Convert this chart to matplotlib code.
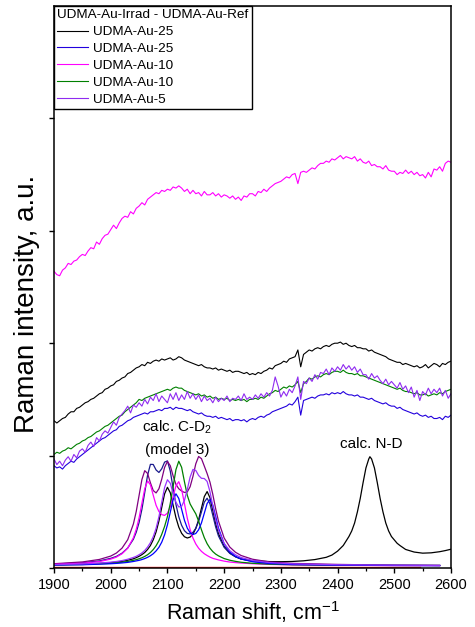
import numpy as np
import matplotlib
matplotlib.use('Agg')
import matplotlib.pyplot as plt

plt.rcParams['font.family'] = 'Liberation Sans'
plt.rcParams['mathtext.default'] = 'regular'

# measured difference spectra (Irrad - Ref), one value every 5 cm-1, 1900..2600
shift = np.arange(1900, 2601, 5)

au25_black = [
    1.31, 1.29, 1.31, 1.33, 1.34, 1.37, 1.39, 1.39, 1.42, 1.43,
    1.45, 1.47, 1.48, 1.50, 1.51, 1.53, 1.55, 1.56, 1.59, 1.60,
    1.62, 1.63, 1.66, 1.67, 1.69, 1.70, 1.73, 1.74, 1.76, 1.78,
    1.79, 1.81, 1.80, 1.83, 1.82, 1.84, 1.85, 1.84, 1.86, 1.85,
    1.86, 1.87, 1.85, 1.86, 1.88, 1.87, 1.85, 1.84, 1.83, 1.82,
    1.81, 1.80, 1.81, 1.79, 1.78, 1.78, 1.77, 1.78, 1.76, 1.77,
    1.76, 1.75, 1.76, 1.74, 1.75, 1.75, 1.74, 1.73, 1.74, 1.72,
    1.73, 1.72, 1.74, 1.73, 1.75, 1.76, 1.78, 1.77, 1.80, 1.81,
    1.82, 1.84, 1.83, 1.86, 1.87, 1.88, 1.94, 1.79, 1.90, 1.92,
    1.94, 1.93, 1.95, 1.96, 1.95, 1.97, 1.98, 1.97, 1.99, 2.00,
    2.00, 2.01, 1.99, 2.00, 1.98, 1.97, 1.98, 1.96, 1.96, 1.95,
    1.95, 1.93, 1.94, 1.92, 1.91, 1.90, 1.89, 1.88, 1.86, 1.85,
    1.84, 1.83, 1.83, 1.81, 1.82, 1.81, 1.80, 1.79, 1.80, 1.78,
    1.79, 1.81, 1.78, 1.80, 1.82, 1.81, 1.79, 1.82, 1.81, 1.83,
    1.84]

au25_blue = [
    0.91, 0.89, 0.90, 0.88, 0.91, 0.93, 0.95, 0.94, 0.97, 0.99,
    1.01, 1.03, 1.05, 1.07, 1.09, 1.11, 1.13, 1.15, 1.16, 1.18,
    1.20, 1.22, 1.23, 1.26, 1.27, 1.29, 1.31, 1.32, 1.34, 1.35,
    1.36, 1.37, 1.38, 1.37, 1.39, 1.39, 1.40, 1.41, 1.40, 1.42,
    1.42, 1.43, 1.41, 1.43, 1.42, 1.42, 1.41, 1.40, 1.41, 1.39,
    1.38, 1.37, 1.38, 1.36, 1.35, 1.35, 1.34, 1.35, 1.33, 1.34,
    1.33, 1.32, 1.33, 1.31, 1.32, 1.32, 1.31, 1.32, 1.30, 1.32,
    1.33, 1.32, 1.34, 1.35, 1.34, 1.36, 1.37, 1.39, 1.40, 1.41,
    1.42, 1.43, 1.44, 1.46, 1.45, 1.48, 1.52, 1.36, 1.49, 1.50,
    1.51, 1.52, 1.51, 1.53, 1.54, 1.54, 1.55, 1.54, 1.56, 1.55,
    1.56, 1.55, 1.57, 1.55, 1.54, 1.54, 1.53, 1.54, 1.52, 1.52,
    1.51, 1.50, 1.51, 1.49, 1.48, 1.47, 1.46, 1.47, 1.45, 1.44,
    1.44, 1.42, 1.43, 1.41, 1.40, 1.39, 1.38, 1.37, 1.38, 1.36,
    1.35, 1.36, 1.34, 1.35, 1.33, 1.33, 1.34, 1.32, 1.35, 1.34,
    1.36]

au10_magenta = [
    2.64, 2.61, 2.60, 2.65, 2.67, 2.71, 2.70, 2.73, 2.74, 2.77,
    2.79, 2.78, 2.82, 2.85, 2.84, 2.90, 2.88, 2.93, 2.96, 2.97,
    3.01, 3.05, 3.02, 3.07, 3.11, 3.13, 3.12, 3.17, 3.15, 3.20,
    3.22, 3.25, 3.23, 3.28, 3.30, 3.32, 3.34, 3.33, 3.36, 3.35,
    3.37, 3.36, 3.39, 3.38, 3.40, 3.38, 3.35, 3.37, 3.33, 3.36,
    3.33, 3.34, 3.31, 3.35, 3.32, 3.32, 3.34, 3.31, 3.33, 3.30,
    3.32, 3.31, 3.29, 3.31, 3.28, 3.30, 3.27, 3.31, 3.30, 3.33,
    3.33, 3.31, 3.35, 3.34, 3.37, 3.35, 3.38, 3.40, 3.42, 3.43,
    3.44, 3.46, 3.48, 3.47, 3.50, 3.51, 3.42, 3.52, 3.53, 3.52,
    3.54, 3.56, 3.55, 3.58, 3.60, 3.60, 3.62, 3.61, 3.64, 3.63,
    3.65, 3.67, 3.64, 3.66, 3.65, 3.64, 3.66, 3.62, 3.64, 3.61,
    3.60, 3.62, 3.58, 3.59, 3.57, 3.57, 3.55, 3.58, 3.54, 3.53,
    3.53, 3.50, 3.52, 3.51, 3.54, 3.51, 3.53, 3.50, 3.52, 3.49,
    3.50, 3.47, 3.52, 3.48, 3.55, 3.54, 3.57, 3.53, 3.60, 3.62,
    3.61]

au10_green = [
    1.01, 1.03, 1.02, 1.04, 1.05, 1.07, 1.06, 1.08, 1.10, 1.11,
    1.13, 1.14, 1.16, 1.17, 1.19, 1.21, 1.22, 1.24, 1.26, 1.27,
    1.29, 1.31, 1.33, 1.35, 1.36, 1.39, 1.41, 1.43, 1.45, 1.47,
    1.50, 1.49, 1.51, 1.52, 1.53, 1.54, 1.55, 1.56, 1.57, 1.58,
    1.59, 1.58, 1.60, 1.61, 1.60, 1.60, 1.58, 1.57, 1.56, 1.55,
    1.54, 1.55, 1.53, 1.54, 1.52, 1.53, 1.51, 1.52, 1.50, 1.51,
    1.50, 1.51, 1.49, 1.50, 1.49, 1.50, 1.49, 1.50, 1.48, 1.50,
    1.50, 1.51, 1.50, 1.52, 1.51, 1.53, 1.55, 1.56, 1.58, 1.57,
    1.59, 1.61, 1.60, 1.62, 1.61, 1.63, 1.66, 1.56, 1.64, 1.66,
    1.69, 1.68, 1.70, 1.71, 1.70, 1.72, 1.73, 1.72, 1.74, 1.75,
    1.75, 1.74, 1.76, 1.74, 1.73, 1.73, 1.72, 1.73, 1.71, 1.71,
    1.70, 1.69, 1.68, 1.67, 1.66, 1.65, 1.64, 1.63, 1.62, 1.61,
    1.60, 1.59, 1.60, 1.58, 1.57, 1.57, 1.56, 1.55, 1.56, 1.54,
    1.54, 1.55, 1.53, 1.54, 1.55, 1.54, 1.56, 1.55, 1.57, 1.58,
    1.59]

au5_violet = [
    0.97, 0.92, 0.95, 0.91, 0.96, 0.99, 0.95, 1.01, 0.98, 1.04,
    1.06, 1.03, 1.09, 1.12, 1.08, 1.16, 1.13, 1.19, 1.22, 1.20,
    1.25, 1.30, 1.27, 1.34, 1.37, 1.40, 1.44, 1.38, 1.45, 1.43,
    1.47, 1.44, 1.50, 1.46, 1.52, 1.49, 1.55, 1.48, 1.53, 1.50,
    1.47, 1.55, 1.50, 1.56, 1.49, 1.54, 1.50, 1.57, 1.51, 1.55,
    1.50, 1.54, 1.48, 1.53, 1.49, 1.51, 1.47, 1.52, 1.48, 1.51,
    1.49, 1.53, 1.48, 1.51, 1.50, 1.53, 1.49, 1.55, 1.50, 1.52,
    1.50, 1.54, 1.51, 1.55, 1.52, 1.56, 1.53, 1.58, 1.70, 1.62,
    1.52, 1.57, 1.53, 1.59, 1.56, 1.62, 1.70, 1.50, 1.66, 1.64,
    1.69, 1.66, 1.72, 1.68, 1.74, 1.73, 1.77, 1.72, 1.78, 1.75,
    1.79, 1.76, 1.81, 1.77, 1.80, 1.76, 1.79, 1.74, 1.77, 1.72,
    1.72, 1.68, 1.73, 1.69, 1.71, 1.67, 1.64, 1.68, 1.63, 1.66,
    1.63, 1.60, 1.65, 1.59, 1.62, 1.56, 1.61, 1.52, 1.58, 1.49,
    1.57, 1.54, 1.60, 1.55, 1.59, 1.56, 1.60, 1.53, 1.58, 1.51,
    1.55]

# calculated C-D2 spectra (model 3)
calc_x = [1900, 1950, 1980, 2000, 2010, 2020, 2030,
          2040, 2045, 2050, 2055, 2060, 2065, 2070, 2075, 2080, 2085,
          2090, 2095, 2100, 2105, 2110, 2115, 2120, 2125, 2130, 2135,
          2140, 2145, 2150, 2155, 2160, 2165, 2170, 2175, 2180, 2185, 2190,
          2200, 2210, 2220, 2230, 2250, 2280, 2320, 2400, 2500, 2580]

calc_navy = [
    0.035, 0.047, 0.063, 0.086, 0.103, 0.132, 0.178,
    0.256, 0.318, 0.404, 0.522, 0.672, 0.826, 0.922, 0.921, 0.872, 0.850,
    0.883, 0.942, 0.953, 0.862, 0.711, 0.566, 0.456, 0.380, 0.332, 0.308,
    0.303, 0.317, 0.353, 0.414, 0.499, 0.586, 0.621, 0.571, 0.469, 0.366, 0.285,
    0.184, 0.130, 0.100, 0.080, 0.059, 0.043, 0.035, 0.028, 0.024, 0.023]

calc_purple = [
    0.038, 0.054, 0.076, 0.106, 0.133, 0.177, 0.252,
    0.392, 0.503, 0.645, 0.787, 0.866, 0.841, 0.758, 0.689, 0.668, 0.705,
    0.791, 0.895, 0.948, 0.910, 0.820, 0.744, 0.705, 0.685, 0.672, 0.677,
    0.723, 0.815, 0.927, 0.992, 0.973, 0.907, 0.840, 0.764, 0.655, 0.528, 0.417,
    0.267, 0.186, 0.140, 0.111, 0.078, 0.054, 0.041, 0.032, 0.025, 0.023]

calc_magenta = [
    0.032, 0.042, 0.057, 0.079, 0.097, 0.127, 0.177,
    0.269, 0.344, 0.446, 0.576, 0.705, 0.774, 0.740, 0.647, 0.558, 0.502,
    0.475, 0.468, 0.488, 0.544, 0.635, 0.731, 0.768, 0.701, 0.573, 0.444,
    0.342, 0.267, 0.214, 0.176, 0.148, 0.127, 0.111, 0.097, 0.086, 0.079, 0.072,
    0.061, 0.053, 0.048, 0.044, 0.038, 0.032, 0.028, 0.024, 0.022, 0.021]

calc_green = [
    0.027, 0.031, 0.037, 0.042, 0.046, 0.051, 0.058,
    0.068, 0.074, 0.082, 0.091, 0.103, 0.118, 0.138, 0.164, 0.198, 0.243,
    0.300, 0.370, 0.457, 0.574, 0.724, 0.875, 0.950, 0.896, 0.768, 0.647,
    0.570, 0.525, 0.482, 0.417, 0.340, 0.270, 0.216, 0.176, 0.146, 0.124, 0.108,
    0.084, 0.069, 0.059, 0.051, 0.042, 0.034, 0.029, 0.025, 0.023, 0.022]

calc_violet = [
    0.030, 0.036, 0.044, 0.052, 0.058, 0.066, 0.078,
    0.094, 0.104, 0.118, 0.134, 0.156, 0.186, 0.225, 0.279, 0.353, 0.456,
    0.586, 0.716, 0.785, 0.754, 0.665, 0.585, 0.543, 0.549, 0.602, 0.699,
    0.809, 0.877, 0.868, 0.823, 0.798, 0.796, 0.770, 0.679, 0.551, 0.431, 0.337,
    0.218, 0.154, 0.117, 0.093, 0.067, 0.048, 0.037, 0.029, 0.025, 0.023]

calc_blue = [
    0.026, 0.029, 0.034, 0.038, 0.041, 0.045, 0.050,
    0.058, 0.063, 0.068, 0.075, 0.084, 0.095, 0.109, 0.127, 0.152, 0.184,
    0.230, 0.295, 0.384, 0.496, 0.607, 0.660, 0.619, 0.523, 0.425, 0.355,
    0.314, 0.298, 0.307, 0.340, 0.401, 0.487, 0.574, 0.609, 0.560, 0.459, 0.356,
    0.215, 0.143, 0.104, 0.080, 0.056, 0.040, 0.031, 0.025, 0.022, 0.021]

# black calc curve: C-D2 part plus the N-D band
calc_black_x = calc_x[:43] + [
    2280, 2300, 2320, 2340, 2360, 2380, 2390, 2400, 2410, 2420, 2425,
    2430, 2435, 2440, 2445, 2450, 2455, 2457, 2460, 2465, 2470, 2475,
    2480, 2485, 2490, 2495, 2500, 2505, 2510, 2520, 2535, 2550, 2565,
    2580, 2590, 2600]
calc_black = [
    0.029, 0.035, 0.041, 0.048, 0.052, 0.059, 0.069,
    0.082, 0.092, 0.104, 0.119, 0.138, 0.165, 0.200, 0.251, 0.321, 0.418,
    0.540, 0.660, 0.718, 0.670, 0.559, 0.448, 0.364, 0.309, 0.278, 0.267,
    0.275, 0.301, 0.352, 0.429, 0.532, 0.635, 0.680, 0.625, 0.512, 0.396, 0.305,
    0.192, 0.133, 0.100, 0.080, 0.065] + [
    0.057, 0.056, 0.058, 0.064, 0.075, 0.095, 0.115, 0.150, 0.200, 0.280, 0.330,
    0.400, 0.500, 0.620, 0.760, 0.890, 0.970, 0.990, 0.970, 0.890, 0.760, 0.620,
    0.500, 0.400, 0.330, 0.280, 0.250, 0.220, 0.200, 0.165, 0.142, 0.132, 0.135,
    0.145, 0.155, 0.167]

calc_red_x = [1900, 2545]
calc_red = [0.010, 0.010]

legend_title = 'UDMA-Au-Irrad - UDMA-Au-Ref'
xticks = [1900, 2000, 2100, 2200, 2300, 2400, 2500, 2600]


def look_nice(ax):

    for side in ['top', 'right', 'left', 'bottom']:
        ax.spines[side].set_linewidth(1.1)

    ax.set_xlim(1900, 2600)
    ax.set_ylim(0, 5)
    ax.set_xticks(xticks)
    ax.set_xticks(np.arange(1950, 2600, 100), minor=True)
    ax.set_yticks([0, 1, 2, 3, 4])
    ax.set_yticklabels([])

    ax.tick_params(which='major', direction='out', length=3.8, width=1.0,
                   labelsize=10.5, top=False, right=False)
    ax.tick_params(which='minor', direction='out', length=2.3, width=0.9,
                   top=False, right=False)

    return


fig = plt.figure(figsize=(4.75, 6.27), dpi=100)
ax = fig.add_axes([54/475, 59/627, 397/475, 562/627])

# experimental spectra
ax.plot(shift, au25_black, color='black', lw=0.8, label='UDMA-Au-25')
ax.plot(shift, au25_blue, color='#2200dd', lw=0.8, label='UDMA-Au-25')
ax.plot(shift, au10_magenta, color='#ff00ff', lw=0.8, label='UDMA-Au-10')
ax.plot(shift, au10_green, color='#008000', lw=0.8, label='UDMA-Au-10')
ax.plot(shift, au5_violet, color='#8f2bf0', lw=0.8, label='UDMA-Au-5')

# calculated spectra
ax.plot(calc_red_x, calc_red, color='#ff2020', lw=1.0)
ax.plot(calc_black_x, calc_black, color='black', lw=0.9)
ax.plot(calc_x, calc_navy, color='#1a1a8c', lw=0.9)
ax.plot(calc_x, calc_purple, color='#800080', lw=0.9)
ax.plot(calc_x, calc_magenta, color='#ff00ff', lw=0.9)
ax.plot(calc_x, calc_green, color='#008000', lw=0.9)
ax.plot(calc_x, calc_blue, color='#0000ff', lw=0.9)
ax.plot(calc_x, calc_violet, color='#9933ff', lw=0.9)

ax.text(2117, 1.25, 'calc. C-D$_2$', ha='center', va='center', fontsize=11)
ax.text(2117, 1.05, '(model 3)', ha='center', va='center', fontsize=11)
ax.text(2460, 1.10, 'calc. N-D', ha='center', va='center', fontsize=11)

look_nice(ax)

ax.set_xlabel('Raman shift, cm$^{-1}$', fontsize=15.5)
ax.xaxis.set_label_coords(0.5, -0.056)
ax.set_ylabel('Raman intensity, a.u.', fontsize=20)
ax.yaxis.set_label_coords(-0.035, 0.47)

leg = ax.legend(loc='upper left', bbox_to_anchor=(0, 1), borderaxespad=0.,
                title=legend_title, alignment='left', fontsize=9.7,
                title_fontsize=9.7, fancybox=False, framealpha=1.0,
                handlelength=2.25, handletextpad=0.4, labelspacing=0.33,
                borderpad=0.25)
leg.get_frame().set_edgecolor('black')
leg.get_frame().set_linewidth(1.0)

plt.savefig('out.png', dpi=100)
